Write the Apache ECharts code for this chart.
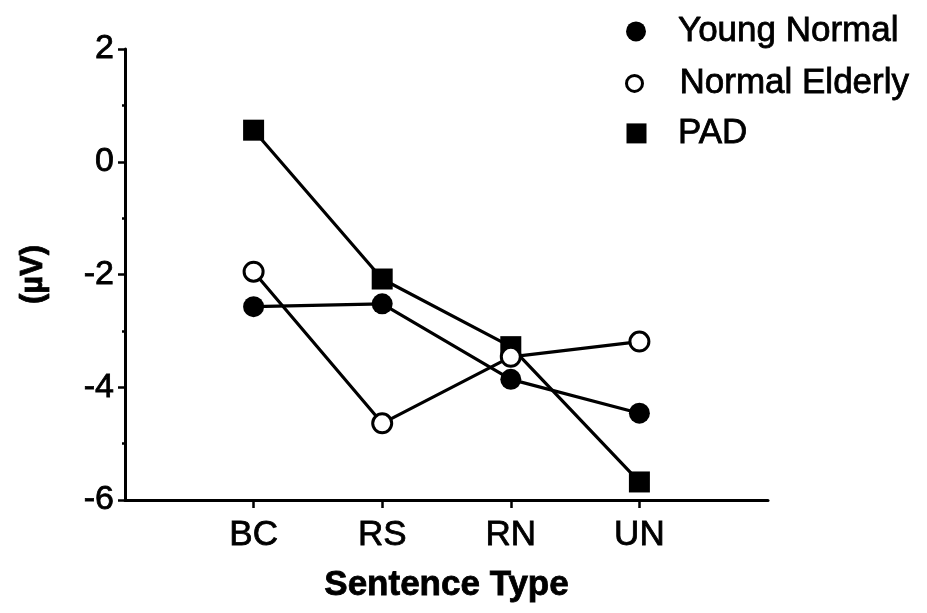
<!DOCTYPE html>
<html>
<head>
<meta charset="utf-8">
<script src="https://cdn.jsdelivr.net/npm/echarts@6/dist/echarts.min.js"></script>
<style>
  html, body { margin: 0; padding: 0; background: #fff; }
  #chart { width: 927px; height: 613px; }
</style>
</head>
<body>
<div id="chart"></div>
<script>
// Sentence types along the x axis
const categories = ['BC', 'RS', 'RN', 'UN'];
// Amplitudes in microvolts for each group
const youngNormal = [-2.57, -2.52, -3.86, -4.46];
const normalElderly = [-1.95, -4.64, -3.46, -3.19];
const pad = [0.56, -2.08, -3.28, -5.68];
// y axis tick labels
const yTicks = [-6, -4, -2, 0, 2];

const FONT = "'Liberation Sans', Arial, Helvetica, sans-serif";
// slight outline gives the text the heavy printed look
const INK = { textBorderColor: '#000', textBorderWidth: 0.8 };

// categories sit at positions 1..4 on a 0..5 value axis
const toPoints = vals => vals.map((v, i) => [i + 1, v]);
const catPositions = categories.map((c, i) => i + 1);

const chart = echarts.init(document.getElementById('chart'));

function legendFor(name, icon, size, left, top, itemStyle, spacer) {
  return {
    data: [{ name: name, icon: icon }],
    left: left, top: top, padding: 0,
    itemWidth: size, itemHeight: size,
    itemStyle: itemStyle,
    selectedMode: false,
    formatter: n => '{s|}{t|' + n + '}',
    textStyle: {
      rich: {
        s: { width: spacer, lineHeight: 40 },
        t: Object.assign({ fontFamily: FONT, fontSize: 35, color: '#000', lineHeight: 40 }, INK)
      }
    }
  };
}

const option = {
  backgroundColor: '#fff',
  animation: false,
  grid: { left: 125, right: 159, top: 49, bottom: 113, containLabel: false },
  legend: [
    legendFor('Young Normal', 'circle', 20, 626, 13.5, { color: '#000', borderWidth: 0 }, 27),
    legendFor('Normal Elderly', 'circle', 16, 625, 65.5, { color: '#fff', borderColor: '#000', borderWidth: 3 }, 32),
    legendFor('PAD', 'rect', 20, 626.5, 115.5, { color: '#000', borderWidth: 0 }, 26.5)
  ],
  xAxis: {
    type: 'value', min: 0, max: 5, interval: 1,
    name: 'Sentence Type', nameLocation: 'middle', nameGap: 68,
    nameTextStyle: Object.assign({ fontFamily: FONT, fontSize: 35, fontWeight: 'bold', color: '#000' }, INK),
    axisLine: { show: true, onZero: false, lineStyle: { color: '#000', width: 3 } },
    axisTick: { show: true, length: 8, lineStyle: { color: '#000', width: 2.5 }, customValues: catPositions },
    axisLabel: Object.assign({
      margin: 18, fontFamily: FONT, fontSize: 35, color: '#000',
      customValues: catPositions,
      formatter: v => categories[Math.round(v) - 1] || ''
    }, INK),
    splitLine: { show: false }
  },
  yAxis: {
    type: 'value', min: yTicks[0], max: yTicks[yTicks.length - 1], interval: 2,
    name: '(µV)', nameLocation: 'middle', nameGap: 76,
    nameTextStyle: Object.assign({ fontFamily: FONT, fontSize: 31, fontWeight: 'bold', color: '#000' }, INK),
    axisLine: { show: true, lineStyle: { color: '#000', width: 3 } },
    axisTick: { show: true, length: 7, lineStyle: { color: '#000', width: 2.5 } },
    minorTick: { show: true, splitNumber: 2, length: 3, lineStyle: { color: '#000', width: 2.5 } },
    axisLabel: Object.assign({ margin: 11, fontFamily: FONT, fontSize: 34, color: '#000', padding: [8, 0, 0, 0] }, INK),
    splitLine: { show: false }
  },
  series: [
    {
      name: 'PAD', type: 'line', data: toPoints(pad), z: 2,
      symbol: 'rect', symbolSize: 21,
      itemStyle: { color: '#000' },
      lineStyle: { color: '#000', width: 3.2 }
    },
    {
      name: 'Young Normal', type: 'line', data: toPoints(youngNormal), z: 3,
      symbol: 'circle', symbolSize: 21,
      itemStyle: { color: '#000' },
      lineStyle: { color: '#000', width: 3.2 }
    },
    {
      name: 'Normal Elderly', type: 'line', data: toPoints(normalElderly), z: 4,
      symbol: 'circle', symbolSize: 19,
      itemStyle: { color: '#fff', borderColor: '#000', borderWidth: 3 },
      lineStyle: { color: '#000', width: 3.2 }
    }
  ]
};

chart.setOption(option);
</script>
</body>
</html>
